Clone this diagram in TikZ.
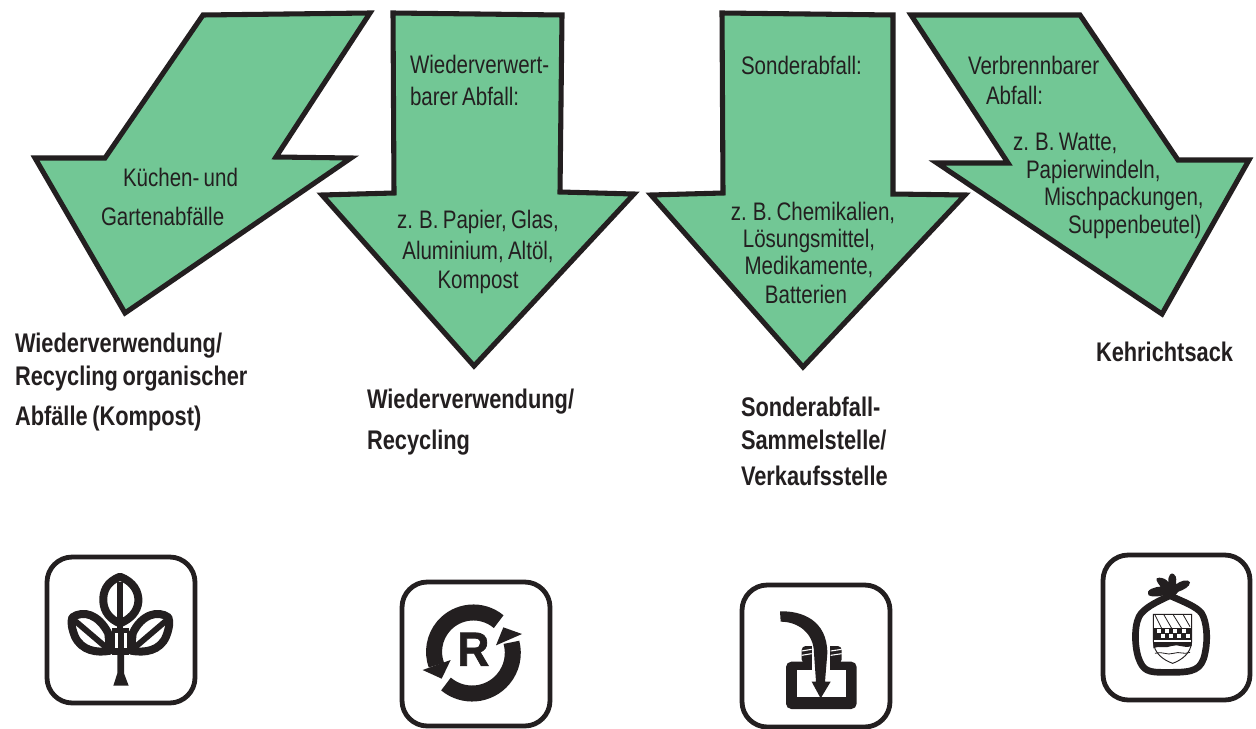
\documentclass[tikz,border=0pt]{standalone}
\usepackage{fontspec}
\setmainfont[FakeStretch=0.81,WordSpace=0.75]{Liberation Sans}
\newfontfamily\wideR[FakeStretch=0.92,FakeBold=1.5]{Liberation Sans}
\definecolor{arrowgreen}{HTML}{72C795}
\definecolor{ink}{HTML}{231F20}
\tikzset{
  x=0.75pt,y=-0.75pt,
  bigarrow/.style={draw=ink,fill=arrowgreen,line width=3.8pt,miter limit=10,line join=miter},
  frame/.style={draw=ink,line width=3.6pt,rounded corners=19pt,fill=white},
  txt/.style={anchor=base west,inner sep=0pt,outer sep=0pt,text=ink,font=\fontsize{19}{21}\selectfont},
  ctxt/.style={txt,anchor=base},
  btxt/.style={txt,font=\fontsize{20.2}{22}\selectfont\bfseries},
  iconline/.style={draw=ink,line cap=round,line join=round},
  icon/.style={shift={(#1)},x=0.25pt,y=-0.25pt},
}
\begin{document}
\begin{tikzpicture}
\useasboundingbox (0,0) rectangle (1256,728);
\fill[white] (0,0) rectangle (1256,728);
% arrows
\draw[bigarrow] (203,15)--(370,13)--(276,157)--(351,158)--(125,313)--(35,158)--(105,158)--cycle;
\draw[bigarrow] (393,13)--(562,15)--(560,192)--(634,194)--(474,366)--(322,195)--(394,193)--cycle;
\draw[bigarrow] (722,13)--(893,15)--(893,194)--(965,195)--(803,367)--(651,195)--(723,193)--cycle;
\draw[bigarrow] (911,15)--(1080,15)--(1178,160)--(1249,160)--(1162,314)--(937,163)--(1008,163)--cycle;
% arrow texts
\node[txt] (a1) at (123,186) {Küchen- und};
\node[txt] (a2) at (101,225) {Gartenabfälle};
\node[txt] (b1) at (410,73) {Wiederverwert-};
\node[txt] (b2) at (410,105) {barer Abfall:};
\node[ctxt] (b3) at (478,228) {z. B. Papier, Glas,};
\node[ctxt] (b4) at (478,259) {Aluminium, Altöl,};
\node[ctxt] (b5) at (478,288) {Kompost};
\node[txt] (c1) at (741,74) {Sonderabfall:};
\node[ctxt] (c2) at (813,220) {z. B. Chemikalien,};
\node[ctxt] (c3) at (809,247) {Lösungsmittel,};
\node[ctxt] (c4) at (809,274) {Medikamente,};
\node[ctxt] (c5) at (806,303) {Batterien};
\node[txt] (d1) at (968,74) {Verbrennbarer};
\node[txt] (d2) at (986,104) {Abfall:};
\node[txt] (d3) at (1013,150) {z. B. Watte,};
\node[txt] (d4) at (1026,178) {Papierwindeln,};
\node[txt] (d5) at (1044,205) {Mischpackungen,};
\node[txt] (d6) at (1068,233) {Suppenbeutel)};
% bold captions
\node[btxt] (e1) at (15,352) {Wiederverwendung/};
\node[btxt] (e2) at (15,385) {Recycling organischer};
\node[btxt] (e3) at (15,425) {Abfälle (Kompost)};
\node[btxt] (f1) at (367,408) {Wiederverwendung/};
\node[btxt] (f2) at (367,449) {Recycling};
\node[btxt] (g1) at (741,416) {Sonderabfall-};
\node[btxt] (g2) at (741,449) {Sammelstelle/};
\node[btxt] (g3) at (741,485) {Verkaufsstelle};
\node[btxt] (h1) at (1096,361) {Kehrichtsack};
% frames
\draw[frame] (47,557) rectangle (195,703);
\draw[frame] (402,582) rectangle (550,726);
\draw[frame] (742,585) rectangle (890,727);
\draw[frame] (1103,555) rectangle (1250,700);
% leaf icon
\begin{scope}[icon={30,540}]
\begin{scope}[iconline,line width=6pt]
 \draw (270,110) .. controls (310,125) and (327,155) .. (325,185) .. controls (323,215) and (300,238) .. (270,250) .. controls (240,238) and (222,215) .. (220,185) .. controls (218,155) and (230,125) .. (270,110) -- cycle;
 \draw (127,232) .. controls (160,210) and (205,222) .. (235,280) -- (240,332) .. controls (200,340) and (155,332) .. (135,290) .. controls (125,265) and (122,245) .. (127,232) -- cycle;
 \draw (415,232) .. controls (385,210) and (335,222) .. (308,280) -- (303,332) .. controls (345,340) and (390,332) .. (408,290) .. controls (418,265) and (420,245) .. (415,232) -- cycle;
 \draw[line width=4.4pt] (138,245) -- (240,332);
 \draw[line width=4.4pt] (405,245) -- (303,332);
\end{scope}
\fill[ink] (262,125) rectangle (280,300);
\fill[ink] (245,265) rectangle (298,345);
\fill[ink] (262,340) -- (282,340) -- (282,400) -- (296,437) -- (250,437) -- (262,400) -- cycle;
\fill[white] (254,280) rectangle (263,325);
\fill[white] (281,280) rectangle (290,325);
\end{scope}
% recycle icon
\begin{scope}[icon={390,570}]
\draw[ink,line width=12pt,line cap=butt] (326,155) arc[start angle=-50,end angle=-200,radius=118];
\fill[ink] (98,300) -- (182,270) -- (155,326) -- cycle;
\draw[ink,line width=12pt,line cap=butt] (168,342) arc[start angle=130,end angle=-15,radius=122];
\fill[ink] (340,172) -- (396,192) -- (318,226) -- cycle;
\node[inner sep=0pt,text=ink,font=\wideR\fontsize{36}{36}\selectfont\bfseries] (rsym) at (250,238) {R};
\end{scope}
% bottle icon
\begin{scope}[icon={730,570}]
\fill[ink,rounded corners=3pt] (215,228) rectangle (335,280);
\draw[white,line width=0.8pt] (215,243) -- (245,238) (215,256) -- (245,251) (302,243) -- (335,238) (302,256) -- (335,251);
\fill[ink,rounded corners=4pt] (168,275) rectangle (380,417);
\fill[white] (200,300) rectangle (347,380);
\fill[white] (245,225) rectangle (300,302);
\fill[ink] (150,124) .. controls (215,122) and (292,150) .. (292,250) -- (285,335) -- (302,335) -- (272,385) -- (245,335) -- (258,335) -- (252,250) .. controls (252,190) and (205,155) .. (152,155) -- cycle;
\end{scope}
% bag icon
\begin{scope}[icon={1090,545}]
\draw[iconline,line width=5pt] (240,152) .. controls (200,170) and (160,190) .. (147,215) .. controls (130,250) and (135,320) .. (150,350) .. controls (165,385) and (190,382) .. (245,382) .. controls (310,382) and (335,375) .. (345,325) .. controls (355,280) and (350,230) .. (335,205) .. controls (320,185) and (280,170) .. (240,152) -- cycle;
\fill[ink] (232,150) .. controls (220,150) and (190,160) .. (175,150) .. controls (165,135) and (195,125) .. (212,125) .. controls (200,110) and (192,98) .. (208,98) .. controls (220,98) and (232,105) .. (235,112) .. controls (233,90) and (245,80) .. (252,88) .. controls (262,95) and (258,110) .. (258,118) .. controls (270,108) and (295,100) .. (300,112) .. controls (300,125) and (280,135) .. (265,140) .. controls (258,145) and (255,155) .. (250,158) -- cycle;
\draw[ink,line width=0.7pt,fill=white] (190,208) -- (305,208) -- (305,290) .. controls (303,325) and (275,345) .. (248,355) .. controls (220,345) and (192,325) .. (190,290) -- cycle;
\draw[ink,line width=0.6pt] (195,210) -- (215,250) (222,210) -- (245,250) (250,210) -- (275,250) (280,210) -- (300,245);
\fill[ink] (190,250) rectangle (305,285);
\foreach \cx in {200,225,250,275} {\fill[white] (\cx,252) rectangle +(12,12);}
\foreach \cx in {212,237,262,287} {\fill[white] (\cx,268) rectangle +(12,12);}
\fill[ink] (192,292) rectangle (303,296);
\fill[ink] (190,296) -- (305,296) -- (305,303) .. controls (280,312) and (265,295) .. (245,303) .. controls (225,312) and (210,300) .. (190,310) -- cycle;
\draw[ink,line width=0.6pt] (195,325) .. controls (220,318) and (230,332) .. (250,325) .. controls (270,318) and (280,330) .. (300,322);
\end{scope}
\end{tikzpicture}
\end{document}
